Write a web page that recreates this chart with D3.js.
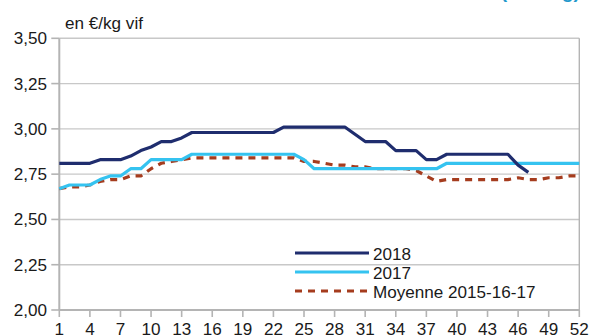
<!DOCTYPE html>
<html>
<head>
<meta charset="utf-8">
<script src="https://cdn.jsdelivr.net/npm/d3@7"></script>
<style>
  html, body { margin: 0; padding: 0; background: #fff; }
  svg { display: block; font-family: "Liberation Sans", Arial, sans-serif; }
</style>
</head>
<body>
<svg id="chart" width="590" height="336"></svg>
<script>
// Weekly live-weight price, €/kg
const weeks = d3.range(1, 53);
const xTickWeeks = [1, 4, 7, 10, 13, 16, 19, 22, 25, 28, 31, 34, 37, 40, 43, 46, 49, 52];
const yTicks = [2.00, 2.25, 2.50, 2.75, 3.00, 3.25, 3.50];

const series2018 = [2.81, 2.81, 2.81, 2.81, 2.83, 2.83, 2.83, 2.85, 2.88, 2.90,
  2.93, 2.93, 2.95, 2.98, 2.98, 2.98, 2.98, 2.98, 2.98, 2.98,
  2.98, 2.98, 3.01, 3.01, 3.01, 3.01, 3.01, 3.01, 3.01, 2.97,
  2.93, 2.93, 2.93, 2.88, 2.88, 2.88, 2.83, 2.83, 2.86, 2.86,
  2.86, 2.86, 2.86, 2.86, 2.86, 2.80, 2.76];

const series2017 = [2.67, 2.69, 2.69, 2.69, 2.72, 2.74, 2.74, 2.78, 2.78, 2.83,
  2.83, 2.83, 2.83, 2.86, 2.86, 2.86, 2.86, 2.86, 2.86, 2.86,
  2.86, 2.86, 2.86, 2.86, 2.83, 2.78, 2.78, 2.78, 2.78, 2.78,
  2.78, 2.78, 2.78, 2.78, 2.78, 2.78, 2.78, 2.78, 2.81, 2.81,
  2.81, 2.81, 2.81, 2.81, 2.81, 2.81, 2.81, 2.81, 2.81, 2.81,
  2.81, 2.81];

const seriesAvg = [2.67, 2.68, 2.68, 2.69, 2.71, 2.72, 2.72, 2.74, 2.74, 2.78,
  2.81, 2.82, 2.83, 2.84, 2.84, 2.84, 2.84, 2.84, 2.84, 2.84,
  2.84, 2.84, 2.84, 2.84, 2.82, 2.82, 2.81, 2.80, 2.80, 2.79,
  2.79, 2.78, 2.78, 2.78, 2.78, 2.77, 2.74, 2.71, 2.72, 2.72,
  2.72, 2.72, 2.72, 2.72, 2.72, 2.73, 2.72, 2.72, 2.73, 2.73,
  2.74, 2.74];

const seriesNames = ["2018", "2017", "Moyenne 2015-16-17"];
const seriesColors = ["#1f2d6e", "#35c3f0", "#a53c1e"];
const fmt = d3.format(".2f");
const comma = v => fmt(v).replace(".", ",");

const svg = d3.select("#chart");
const x = d3.scaleLinear().domain([1, 52]).range([59.3, 579.3]);
const y = d3.scaleLinear().domain([2, 3.5]).range([310, 38.3]);
const stretch = 1.07;

// horizontal gridlines
svg.append("g").selectAll("line").data(yTicks.slice(1)).join("line")
  .attr("x1", x(1)).attr("x2", x(52))
  .attr("y1", d => y(d)).attr("y2", d => y(d))
  .attr("stroke", "#c8c8c8").attr("stroke-width", 1.4);

// right frame
svg.append("line")
  .attr("x1", x(52)).attr("x2", x(52)).attr("y1", y(3.5)).attr("y2", y(2))
  .attr("stroke", "#b4b4b4").attr("stroke-width", 1.4);

// y axis
const yAxis = svg.append("g");
yAxis.append("line").attr("x1", x(1)).attr("x2", x(1)).attr("y1", y(3.5)).attr("y2", y(2))
  .attr("stroke", "#b4b4b4").attr("stroke-width", 2);
yAxis.selectAll("line.tick").data(yTicks).join("line").attr("class", "tick")
  .attr("x1", x(1) - 8).attr("x2", x(1))
  .attr("y1", d => y(d)).attr("y2", d => y(d))
  .attr("stroke", "#b4b4b4").attr("stroke-width", 1.6);
yAxis.selectAll("text").data(yTicks).join("text")
  .attr("transform", d => `translate(47,${y(d) + 6}) scale(${stretch},1)`)
  .attr("text-anchor", "end").attr("font-size", 16).attr("fill", "#1a1a1a")
  .text(d => comma(d));

// x axis
const xAxis = svg.append("g");
xAxis.append("line").attr("x1", x(1)).attr("x2", x(52)).attr("y1", y(2)).attr("y2", y(2))
  .attr("stroke", "#b4b4b4").attr("stroke-width", 2);
xAxis.selectAll("line.tick").data(xTickWeeks).join("line").attr("class", "tick")
  .attr("x1", d => x(d)).attr("x2", d => x(d))
  .attr("y1", y(2)).attr("y2", y(2) + 7)
  .attr("stroke", "#b4b4b4").attr("stroke-width", 1.6);
xAxis.selectAll("text").data(xTickWeeks).join("text")
  .attr("transform", d => `translate(${x(d)},335) scale(${stretch},1)`)
  .attr("text-anchor", "middle").attr("font-size", 16).attr("fill", "#1a1a1a")
  .text(d => d);

// unit label
svg.append("text")
  .attr("transform", `translate(65,28.5) scale(${stretch},1)`)
  .attr("font-size", 16).attr("fill", "#1a1a1a").text("en €/kg vif");

// heading, clipped by the top edge
svg.append("text")
  .attr("transform", `translate(580,-2) scale(${stretch},1)`)
  .attr("text-anchor", "end").attr("font-size", 18).attr("font-weight", "bold")
  .attr("fill", "#2399cc").text("(en €/kg)");

// series lines
const line = d3.line().x((d, i) => x(weeks[i])).y(d => y(d));
const all = [series2018, series2017, seriesAvg];
// draw average first so the solid lines sit on top
[2, 1, 0].forEach(k => {
  svg.append("path").datum(all[k])
    .attr("d", line)
    .attr("fill", "none")
    .attr("stroke", seriesColors[k])
    .attr("stroke-width", 3.2)
    .attr("stroke-linejoin", "round")
    .attr("stroke-dasharray", k === 2 ? "7,6" : null);
});

// legend
const legY = [253, 272, 291];
const leg = svg.append("g");
seriesNames.forEach((name, k) => {
  leg.append("line")
    .attr("x1", 295).attr("x2", 369).attr("y1", legY[k]).attr("y2", legY[k])
    .attr("stroke", seriesColors[k]).attr("stroke-width", 3.2)
    .attr("stroke-dasharray", k === 2 ? "7,6" : null);
  leg.append("text")
    .attr("transform", `translate(373,${legY[k] + 7}) scale(${stretch},1)`)
    .attr("font-size", 16).attr("fill", "#1a1a1a").text(name);
});
</script>
</body>
</html>
